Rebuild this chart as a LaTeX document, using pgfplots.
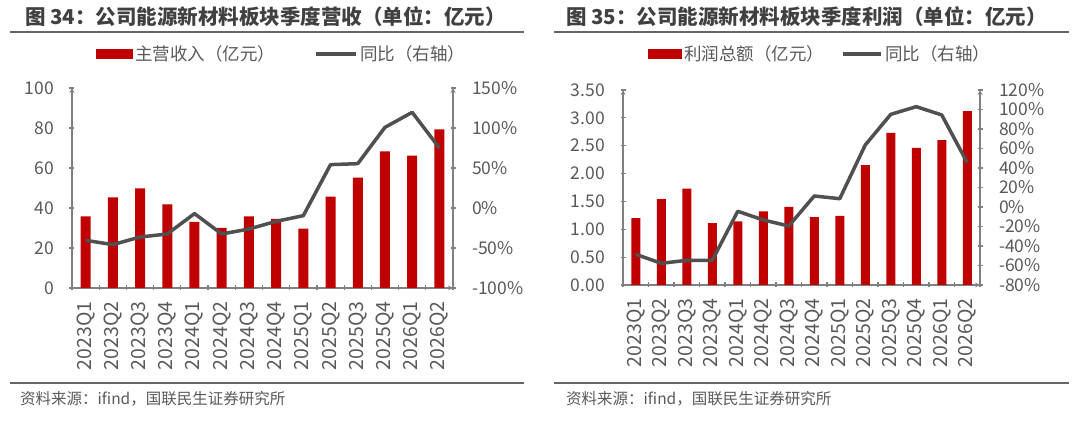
\documentclass[border=0pt]{standalone}
\usepackage{pgfplots}
\pgfplotsset{compat=1.18}
\usepackage{fontspec}
\setmainfont{Noto Sans CJK SC}
\definecolor{barred}{HTML}{C00000}
\definecolor{linegray}{HTML}{505050}
\definecolor{axgray}{HTML}{808080}
\definecolor{txtgray}{HTML}{595959}
\definecolor{titlegray}{HTML}{404040}
\definecolor{rulegray}{HTML}{666666}
\newcommand{\fs}[1]{\fontsize{#1}{#1}\selectfont}

\pgfplotsset{
  base/.style={scale only axis, xmin=-0.5, xmax=13.5,
    axis line style={-, axgray, line width=1.2pt},
    tick style={axgray, line width=1.2pt},
    tick align=outside, major tick length=5pt,
    ticklabel style={text=txtgray},
    /pgf/number format/assume math mode=true, clip=false},
  baraxis/.style={base, axis x line=bottom, axis y line=left,
    xtick={-0.5,0.5,...,13.5}, xticklabels={},
    extra x ticks={0,...,13},
    extra x tick labels={2023Q1,2023Q2,2023Q3,2023Q4,2024Q1,2024Q2,2024Q3,2024Q4,2025Q1,2025Q2,2025Q3,2025Q4,2026Q1,2026Q2},
    extra x tick style={major tick length=0pt, tick style={draw=none},
      xticklabel style={rotate=90, anchor=east, font=\fs{19.5pt}, text=txtgray, xshift=-10pt}},
    yticklabel style={font=\fs{17.5pt}, xshift=-12pt},
    legend style={draw=none, fill=none, font=\fs{17.5pt}, text=txtgray,
      legend columns=2},
  },
  lineaxis/.style={base, axis y line=right, axis x line=none,
    yticklabel style={font=\fs{17.5pt}, xshift=13pt}},
}

\begin{document}
\begin{tikzpicture}
\path[use as bounding box] (0pt,0pt) rectangle (1080pt,427pt);

% ---------------- Left panel ----------------
\node[anchor=west, font=\bfseries\fs{20.5pt}, text=titlegray, inner sep=0pt] at (25pt,410pt) {图 34：公司能源新材料板块季度营收（单位：亿元）};
\draw[rulegray, line width=1.5pt] (10pt,395pt) -- (524pt,395pt);
\draw[rulegray, line width=1.5pt] (10pt,44pt) -- (524pt,44pt);
\node[anchor=west, font=\fs{15.5pt}, text=txtgray, inner sep=0pt] at (20pt,28pt) {资料来源：ifind，国联民生证券研究所};

\begin{axis}[baraxis, at={(72pt,139pt)}, anchor=south west, width=381pt, height=200pt,
  ymin=0, ymax=100, ytick={0,20,...,100},
  legend style={at={(0.551,1.17)}, anchor=center, /tikz/every even column/.append style={column sep=37pt}}]
\addplot[ybar, bar width=10pt, fill=barred, draw=none,
  legend image code/.code={\fill[barred] (0pt,-5pt) rectangle (37pt,5pt);}]
  coordinates {(0,35.8) (1,45.3) (2,49.8) (3,41.8) (4,33) (5,30) (6,35.8) (7,34.5) (8,29.7) (9,45.7) (10,55.2) (11,68.3) (12,66.2) (13,79.3)};
\addlegendentry{主营收入（亿元）}
\addlegendimage{legend image code/.code={\draw[linegray, line width=4pt] (0pt,0pt) -- (40pt,0pt);}}
\addlegendentry{同比（右轴）}
\end{axis}
\begin{axis}[lineaxis, at={(72pt,139pt)}, anchor=south west, width=381pt, height=200pt,
  ymin=-100, ymax=150, ytick={-100,-50,...,150},
  yticklabel={\pgfmathprintnumber{\tick}\%}]
\addplot[linegray, line width=3.5pt, line join=round]
  coordinates {(0,-40.4) (1,-45.8) (2,-36.3) (3,-32.5) (4,-7) (5,-32.5) (6,-26.3) (7,-16.7) (8,-9.6) (9,54.2) (10,55.4) (11,100.8) (12,119.6) (13,75)};
\end{axis}

% ---------------- Right panel ----------------
\node[anchor=west, font=\bfseries\fs{20.5pt}, text=titlegray, inner sep=0pt] at (566pt,410pt) {图 35：公司能源新材料板块季度利润（单位：亿元）};
\draw[rulegray, line width=1.5pt] (554pt,395pt) -- (1069pt,395pt);
\draw[rulegray, line width=1.5pt] (554pt,44pt) -- (1069pt,44pt);
\node[anchor=west, font=\fs{15.5pt}, text=txtgray, inner sep=0pt] at (566pt,28pt) {资料来源：ifind，国联民生证券研究所};

\begin{axis}[baraxis, at={(623pt,142pt)}, anchor=south west, width=357pt, height=195pt,
  ymin=0, ymax=3.5, ytick={0,0.5,...,3.5},
  yticklabel style={/pgf/number format/.cd, fixed, fixed zerofill, precision=2},
  legend style={at={(0.552,1.185)}, anchor=center, /tikz/every even column/.append style={column sep=15pt}}]
\addplot[ybar, bar width=9pt, fill=barred, draw=none,
  legend image code/.code={\fill[barred] (0pt,-5pt) rectangle (34pt,5pt);}]
  coordinates {(0,1.2) (1,1.54) (2,1.73) (3,1.11) (4,1.14) (5,1.32) (6,1.40) (7,1.22) (8,1.24) (9,2.15) (10,2.73) (11,2.46) (12,2.60) (13,3.12)};
\addlegendentry{利润总额（亿元）}
\addlegendimage{legend image code/.code={\draw[linegray, line width=4pt] (0pt,0pt) -- (38pt,0pt);}}
\addlegendentry{同比（右轴）}
\end{axis}
\begin{axis}[lineaxis, at={(623pt,142pt)}, anchor=south west, width=357pt, height=195pt,
  ymin=-80, ymax=120, ytick={-80,-60,...,120},
  yticklabel={\pgfmathprintnumber{\tick}\%}]
\addplot[linegray, line width=3.5pt, line join=round]
  coordinates {(0,-48.5) (1,-57.8) (2,-54.7) (3,-54.7) (4,-4.4) (5,-13.3) (6,-19.5) (7,11.3) (8,8.5) (9,63.6) (10,95) (11,102.9) (12,94.4) (13,45.5)};
\end{axis}
\end{tikzpicture}
\end{document}
